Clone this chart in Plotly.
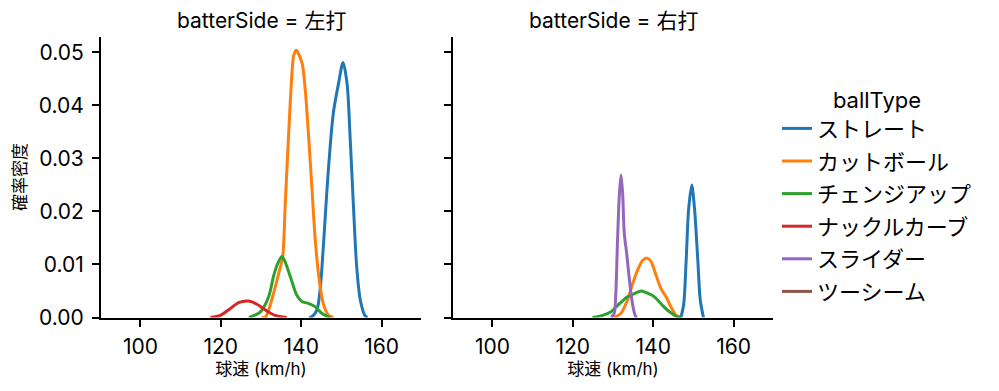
import plotly.graph_objects as go

# ---- data ----
ball_types = ["ストレート", "カットボール", "チェンジアップ", "ナックルカーブ", "スライダー", "ツーシーム"]
colors = ["#1f77b4", "#ff7f0e", "#2ca02c", "#d62728", "#9467bd", "#8c564b"]
panels = ["左打", "右打"]
x_ticks = [100, 120, 140, 160]
y_ticks = [0.0, 0.01, 0.02, 0.03, 0.04, 0.05]

# 左打 (left-handed batters)
L_straight_x = [142.0, 142.7, 143.9, 144.7, 145.5, 146.4, 147.2, 148.0, 149.3, 150.4, 151.4, 152.2, 153.0, 153.8, 154.7, 155.9, 156.5]
L_straight_y = [0, 0.0002, 0.0014, 0.0052, 0.0133, 0.024, 0.0322, 0.0386, 0.0442, 0.0481, 0.0442, 0.0335, 0.0209, 0.0096, 0.0033, 0.0003, 0]
L_cutter_x = [130.2, 131.1, 131.9, 133.1, 134.4, 135.4, 136.0, 136.8, 137.7, 138.1, 138.76, 140.2, 141.0, 141.9, 142.7, 143.5, 144.5, 145.5, 146.8, 148.0]
L_cutter_y = [0, 0.0001, 0.0014, 0.0045, 0.0083, 0.0115, 0.0209, 0.0335, 0.046, 0.0493, 0.0504, 0.048, 0.043, 0.0335, 0.024, 0.0146, 0.007, 0.0026, 0.0004, 0]
L_change_x = [127.0, 127.7, 129.8, 131.9, 133.1, 134.0, 135.2, 136.0, 137.3, 138.9, 140.2, 141.6, 143.5, 145.1, 146.8, 147.2]
L_change_y = [0, 0.0002, 0.001, 0.0039, 0.0077, 0.0099, 0.0115, 0.0105, 0.0077, 0.0042, 0.003, 0.0027, 0.002, 0.0008, 0.0001, 0]
L_kcurve_x = [117.4, 119.9, 122.4, 124.4, 126.9, 129.0, 131.1, 133.5, 136.4]
L_kcurve_y = [0, 0.0004, 0.0017, 0.0028, 0.0031, 0.0025, 0.0014, 0.0004, 0]

# 右打 (right-handed batters)
R_straight_x = [146.9, 147.6, 148.2, 148.8, 149.6, 150.3, 151.1, 151.7, 152.5]
R_straight_y = [0, 0.0026, 0.0108, 0.0203, 0.025, 0.0203, 0.0108, 0.0033, 0]
R_cutter_x = [130.3, 132.0, 133.6, 134.9, 136.1, 137.4, 138.5, 139.5, 140.7, 141.9, 143.2, 144.4, 145.7, 146.9]
R_cutter_y = [0, 0.0008, 0.0033, 0.0064, 0.0089, 0.0108, 0.0112, 0.0105, 0.008, 0.0055, 0.0039, 0.002, 0.0004, 0]
R_change_x = [124.9, 127.4, 129.5, 131.6, 133.6, 135.3, 137.0, 138.6, 140.3, 142.3, 144.0, 146.1, 147.0]
R_change_y = [0, 0.0004, 0.0011, 0.0026, 0.0039, 0.0045, 0.005, 0.0046, 0.0039, 0.0023, 0.0011, 0.0001, 0]
R_slider_x = [129.6, 130.3, 130.7, 131.1, 131.6, 132.0, 132.4, 132.8, 133.4, 134.0, 134.7, 135.5, 135.9]
R_slider_y = [0, 0.0008, 0.0045, 0.014, 0.0234, 0.0269, 0.0234, 0.0159, 0.0121, 0.0077, 0.0033, 0.0004, 0]

left_series = {
    "ストレート": (L_straight_x, L_straight_y),
    "カットボール": (L_cutter_x, L_cutter_y),
    "チェンジアップ": (L_change_x, L_change_y),
    "ナックルカーブ": (L_kcurve_x, L_kcurve_y),
}
right_series = {
    "ストレート": (R_straight_x, R_straight_y),
    "カットボール": (R_cutter_x, R_cutter_y),
    "チェンジアップ": (R_change_x, R_change_y),
    "スライダー": (R_slider_x, R_slider_y),
}

FONT = "Inter, Noto Sans CJK JP"
# page has an 8px body margin; figure sized to fit the 999x391 window
OFF = 8
W, H = 999 - OFF, 391 - OFF


def fx(px):
    return (px - OFF) / W


def fy(py):
    return (H - (py - OFF)) / H


fig = go.Figure()
for name, col in zip(ball_types, colors):
    shown = False
    for series, xa, ya in [(left_series, "x", "y"), (right_series, "x2", "y2")]:
        if name in series:
            xs, ys = series[name]
            fig.add_trace(go.Scatter(
                x=xs, y=ys, mode="lines", name=name, legendgroup=name,
                line=dict(color=col, width=3, shape="spline", smoothing=0.8),
                xaxis=xa, yaxis=ya, showlegend=not shown, hoverinfo="skip"))
            shown = True
    if not shown:
        fig.add_trace(go.Scatter(
            x=[None], y=[None], mode="lines", name=name, legendgroup=name,
            line=dict(color=col, width=3), xaxis="x", yaxis="y", showlegend=True))

x_range = [90.2, 169.8]
y_range = [0, 0.053]
y_dom = [fy(317.5), fy(36.5)]

axis_common = dict(
    showline=True, linecolor="black", linewidth=2, mirror=False,
    ticks="outside", ticklen=7, tickwidth=1.8, tickcolor="black",
    showgrid=False, zeroline=False,
    tickfont=dict(family=FONT, size=21, color="black"),
)

fig.update_layout(
    width=W, height=H,
    margin=dict(l=0, r=0, t=0, b=0),
    paper_bgcolor="white", plot_bgcolor="white",
    font=dict(family=FONT, color="black"),
    xaxis=dict(domain=[fx(101), fx(421)], range=x_range, tickvals=x_ticks,
               anchor="y", automargin=False, ticklabelstandoff=2,
               title=dict(text="球速 (km/h)", font=dict(family=FONT, size=17), standoff=4),
               **axis_common),
    yaxis=dict(domain=y_dom, range=y_range, tickvals=y_ticks, tickformat=".2f",
               anchor="x", automargin=False, ticklabelstandoff=4,
               title=dict(text="確率密度", font=dict(family=FONT, size=17), standoff=8),
               **axis_common),
    xaxis2=dict(domain=[fx(453), fx(773)], range=x_range, tickvals=x_ticks,
                anchor="y2", automargin=False, ticklabelstandoff=2,
                title=dict(text="球速 (km/h)", font=dict(family=FONT, size=17), standoff=4),
                **axis_common),
    yaxis2=dict(domain=y_dom, range=y_range, tickvals=y_ticks, matches="y",
                anchor="x2", automargin=False, showticklabels=False,
                **axis_common),
    legend=dict(
        x=fx(777), y=fy(79), xanchor="left", yanchor="top",
        title=dict(text="ballType", side="top center", font=dict(family=FONT, size=22)),
        font=dict(family=FONT, size=22, color="black"),
        tracegroupgap=1, traceorder="grouped",
        bgcolor="rgba(0,0,0,0)",
    ),
    showlegend=True,
)

for i, p in enumerate(panels):
    cx = fx(261 if i == 0 else 613)
    fig.add_annotation(text=f"batterSide = {p}", x=cx, y=fy(21),
                       xref="paper", yref="paper", showarrow=False,
                       xanchor="center", yanchor="middle",
                       font=dict(family=FONT, size=21, color="black"))

fig.write_html("out.html")
